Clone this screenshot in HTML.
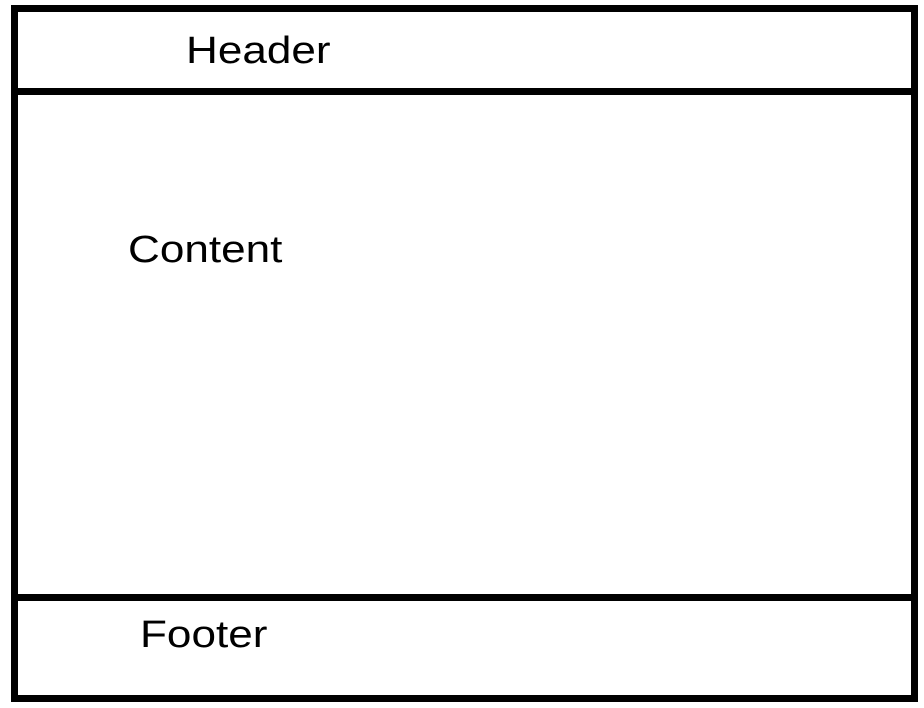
<!DOCTYPE html>
<html><head><style>
body{margin:0;background:#fff;width:924px;height:708px;position:relative;overflow:hidden;font-family:"Liberation Sans",Arial,sans-serif;}
.b{position:absolute;background:#000;}
.t{position:absolute;font-size:38px;color:#000;line-height:1;transform:scaleX(1.16);transform-origin:0 0;}
</style></head><body>
<div class="b" style="left:11px;top:5px;width:907px;height:7px"></div>
<div class="b" style="left:11px;top:5px;width:7px;height:697px"></div>
<div class="b" style="left:911px;top:5px;width:7px;height:697px"></div>
<div class="b" style="left:11px;top:695px;width:907px;height:7px"></div>
<div class="b" style="left:11px;top:88px;width:900px;height:7px"></div>
<div class="b" style="left:11px;top:594px;width:907px;height:7px"></div>
<div class="t" style="left:186px;top:32px">Header</div>
<div class="t" style="left:128px;top:231px">Content</div>
<div class="t" style="left:140px;top:616px">Footer</div>
</body></html>
